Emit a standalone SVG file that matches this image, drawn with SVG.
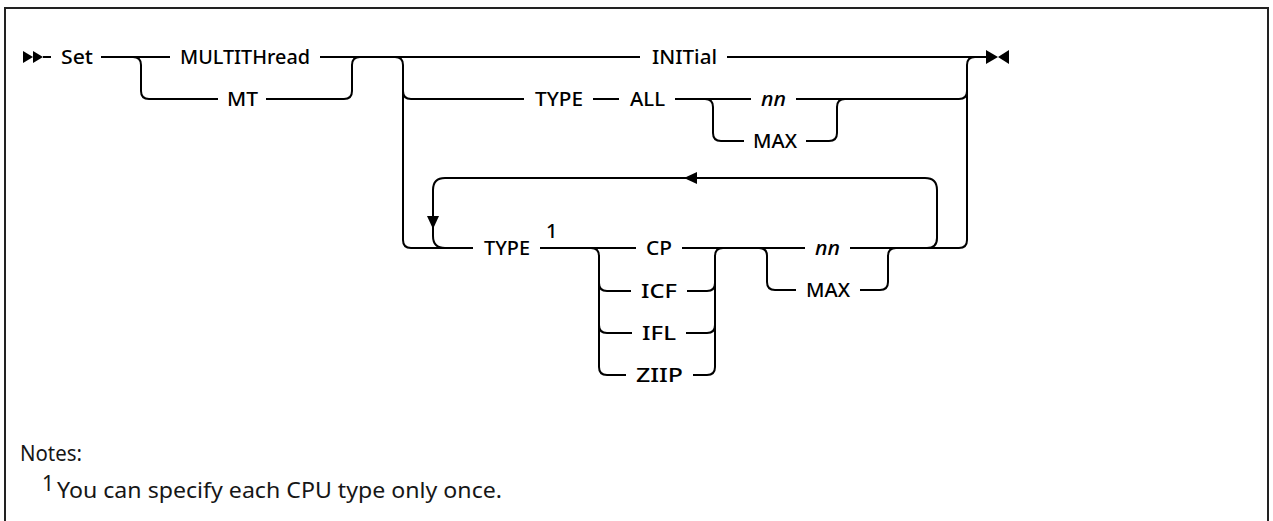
<svg xmlns="http://www.w3.org/2000/svg" width="1273" height="521" viewBox="0 0 1273 521">
<style>
.l{font-family:"Noto Sans","Liberation Sans",sans-serif;font-size:20px;font-weight:500;fill:#000}
.i{font-style:italic}
.c{fill:none;stroke:#000;stroke-width:2}
.m{fill:#000;stroke:none}
.n{font-family:"Noto Sans","Liberation Sans",sans-serif;font-size:21px;fill:#161616}
</style>
<rect x="5" y="8" width="1263" height="530" fill="#fff" stroke="#222" stroke-width="2"/>
<g id="connectors">
<polygon class="m" points="23,51 23,63 33,57"/>
<polygon class="m" points="33,51 33,63 43,57"/>
<path class="c" d="M43 57 H51 M101 57 H170 M320 57 H640 M727 57 H987"/>
<path class="c" d="M133 57 Q141 57 141 65 V91 Q141 99 149 99 H218 M266 99 H344 Q352 99 352 91 V65 Q352 57 360 57"/>
<path class="c" d="M395 57 Q403 57 403 65 V240 Q403 248 411 248 H473 M403 91 Q403 99 411 99 H524"/>
<path class="c" d="M593 99 H619 M675 99 H751 M796 99 H959 Q967 99 967 91"/>
<path class="c" d="M705 99 Q713 99 713 107 V133 Q713 141 721 141 H744 M806 141 H829 Q837 141 837 133 V107 Q837 99 845 99"/>
<path class="c" d="M959 248 Q967 248 967 240 V65 Q967 57 975 57"/>
<path class="c" d="M927 248 Q937 248 937 238 V190 Q937 178 925 178 H445 Q433 178 433 190 V236 Q433 248 445 248"/>
<polygon class="m" points="427,216 439,216 433,229"/>
<polygon class="m" points="684,178 697,172 697,184"/>
<path class="c" d="M540 248 H636 M682 248 H805 M850 248 H959"/>
<path class="c" d="M591 248 Q599 248 599 256 V367 Q599 375 607 375 H626 M693 375 H707 Q715 375 715 367 V256 Q715 248 723 248"/>
<path class="c" d="M599 283 Q599 291 607 291 H631 M687 291 H707 Q715 291 715 283"/>
<path class="c" d="M599 325 Q599 333 607 333 H632 M686 333 H707 Q715 333 715 325"/>
<path class="c" d="M759 248 Q767 248 767 256 V282 Q767 290 775 290 H796 M860 290 H880 Q888 290 888 282 V256 Q888 248 896 248"/>
<polygon class="m" points="986,50 986,64 998,57"/>
<polygon class="m" points="1009,50 1009,64 998,57"/>
</g>
<g id="set"><text class="l" x="61" y="64" textLength="32" lengthAdjust="spacingAndGlyphs">Set</text></g>
<g id="multithread"><text class="l" x="180" y="64" textLength="130" lengthAdjust="spacingAndGlyphs">MULTITHread</text></g>
<g id="mt"><text class="l" x="227" y="106" textLength="31" lengthAdjust="spacingAndGlyphs">MT</text></g>
<g id="initial"><text class="l" x="652" y="64" textLength="65" lengthAdjust="spacingAndGlyphs">INITial</text></g>
<g id="type1"><text class="l" x="535" y="106" textLength="48" lengthAdjust="spacingAndGlyphs">TYPE</text></g>
<g id="all"><text class="l" x="630" y="106" textLength="35" lengthAdjust="spacingAndGlyphs">ALL</text></g>
<g id="nn1"><text class="l i" x="761" y="106" textLength="25" lengthAdjust="spacingAndGlyphs">nn</text></g>
<g id="max1"><text class="l" x="753" y="148" textLength="44" lengthAdjust="spacingAndGlyphs">MAX</text></g>
<g id="type2"><text class="l" x="484" y="255" textLength="46" lengthAdjust="spacingAndGlyphs">TYPE</text><text class="l" x="546" y="238" font-size="18">1</text></g>
<g id="cp"><text class="l" x="646" y="255" textLength="26" lengthAdjust="spacingAndGlyphs">CP</text></g>
<g id="icf"><text class="l" x="641" y="298" textLength="36" lengthAdjust="spacingAndGlyphs">ICF</text></g>
<g id="ifl"><text class="l" x="642" y="340" textLength="34" lengthAdjust="spacingAndGlyphs">IFL</text></g>
<g id="ziip"><text class="l" x="636" y="382" textLength="47" lengthAdjust="spacingAndGlyphs">ZIIP</text></g>
<g id="nn2"><text class="l i" x="815" y="255" textLength="25" lengthAdjust="spacingAndGlyphs">nn</text></g>
<g id="max2"><text class="l" x="806" y="297" textLength="44" lengthAdjust="spacingAndGlyphs">MAX</text></g>
<g id="notes">
<text class="n" x="20" y="461" textLength="62" lengthAdjust="spacingAndGlyphs">Notes:</text>
<text class="n" x="42" y="491" font-size="15">1</text>
<text class="n" x="57" y="498" textLength="445" lengthAdjust="spacingAndGlyphs">You can specify each CPU type only once.</text>
</g>
</svg>
